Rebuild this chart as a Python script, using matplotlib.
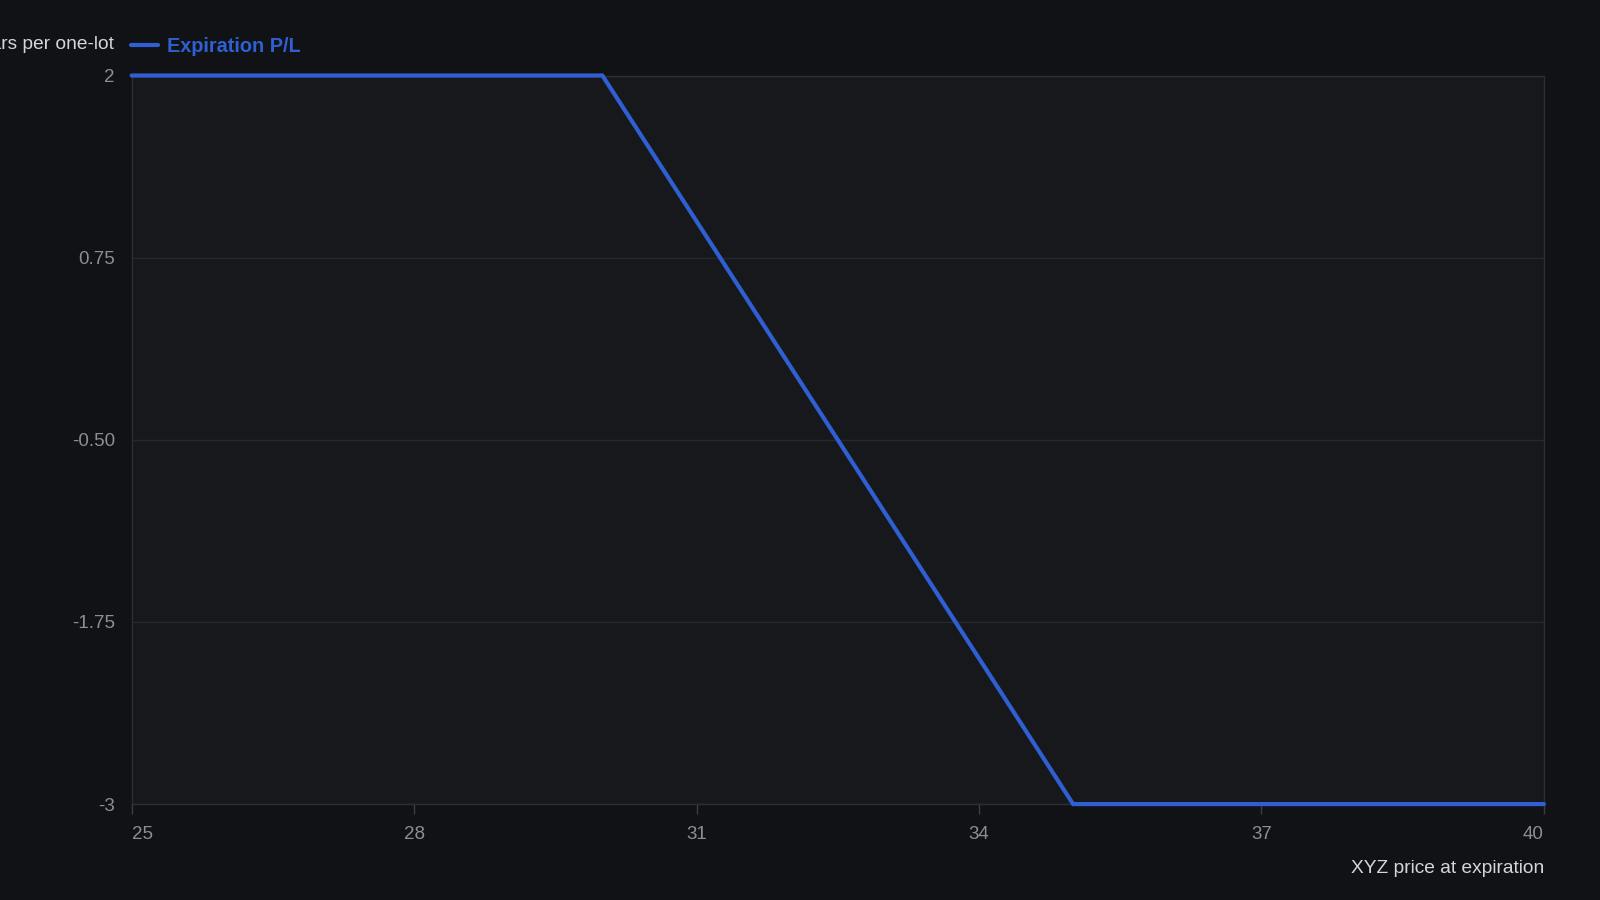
import matplotlib
matplotlib.use("Agg")
import matplotlib.pyplot as plt

# expiration payoff (XYZ price -> P/L per one-lot)
prices = [25, 30, 35, 40]
pnl = [2, 2, -3, -3]

x_ticks = [25, 28, 31, 34, 37, 40]
y_ticks = [-3, -1.75, -0.5, 0.75, 2]
y_tick_labels = ["-3", "-1.75", "-0.50", "0.75", "2"]

plt.rcParams['font.family'] = ['Liberation Sans', 'DejaVu Sans']

fig_bg = '#111216'
ax_bg = '#16181c'
grid_c = '#25282c'
tick_c = '#8b8e93'
blue = '#2f5fd2'

W, H = 1568, 882
fig = plt.figure(figsize=(16, 9), dpi=100, facecolor=fig_bg)
left, right, top, bottom = 129 / W, 1513 / W, 1 - 74 / H, 1 - 788 / H
ax = fig.add_axes([left, bottom, right - left, top - bottom], facecolor=ax_bg)

ax.plot(prices, pnl, color=blue, lw=3, solid_capstyle='round',
        solid_joinstyle='miter', label='Expiration P/L', zorder=3, clip_on=False)

ax.set_xlim(25, 40)
ax.set_ylim(-3, 2)
ax.set_xticks(x_ticks)
ax.set_xticklabels([str(v) for v in x_ticks])
ax.set_yticks(y_ticks)
ax.set_yticklabels(y_tick_labels)

xl = ax.get_xticklabels()
xl[0].set_ha('left')
xl[-1].set_ha('right')

ax.tick_params(axis='x', colors='#3a3d42', length=7, width=1, pad=9,
               labelcolor=tick_c, labelsize=13.5)
ax.tick_params(axis='y', length=0, pad=12, labelcolor=tick_c, labelsize=13.5)

ax.grid(axis='y', color=grid_c, lw=1)
for s in ax.spines.values():
    s.set_color('#2b2e33')
    s.set_linewidth(1)

ax.set_xlabel('XYZ price at expiration', loc='right', color='#d4d6d9',
              fontsize=13.8, labelpad=12)

# y axis title sits left of the legend and runs off the figure edge
fig.text(112 / W, 1 - 44 / H, 'Dollars per one-lot', ha='right', va='center',
         color='#d4d6d9', fontsize=13.8)

leg = ax.legend(loc='center left', bbox_to_anchor=(128 / W, 1 - 46 / H),
                bbox_transform=fig.transFigure, frameon=False, borderpad=0,
                borderaxespad=0, handlelength=1.4, handletextpad=0.45,
                prop={'weight': 'bold', 'size': 14.3}, labelcolor=blue)

fig.savefig('out.png', dpi=100, facecolor=fig_bg)
